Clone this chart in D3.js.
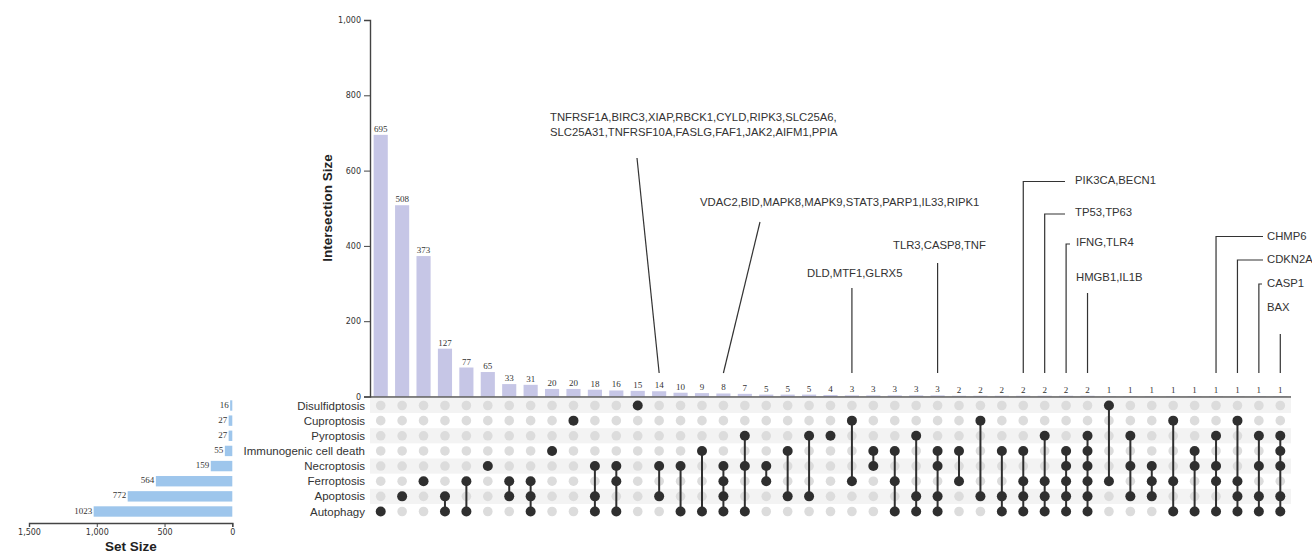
<!DOCTYPE html>
<html>
<head>
<meta charset="utf-8">
<script src="https://cdn.jsdelivr.net/npm/d3@7"></script>
<style>
  body { margin: 0; background: #fff; }
  svg { display: block; }
</style>
</head>
<body>
<svg id="chart" width="1312" height="553"></svg>
<script>
// ---- data -------------------------------------------------------------
const setNames = [
  "Disulfidptosis", "Cuproptosis", "Pyroptosis", "Immunogenic cell death",
  "Necroptosis", "Ferroptosis", "Apoptosis", "Autophagy"
];
const setSizes = [16, 27, 27, 55, 159, 564, 772, 1023];

const intersectionSizes = [
  695, 508, 373, 127, 77, 65, 33, 31, 20, 20, 18, 16, 15, 14, 10, 9, 8, 7,
  5, 5, 5, 4, 3, 3, 3, 3, 3, 2, 2, 2, 2, 2, 2, 2, 1, 1, 1, 1, 1, 1, 1, 1, 1
];

const intersectionSets = [
  ["Autophagy"],
  ["Apoptosis"],
  ["Ferroptosis"],
  ["Apoptosis", "Autophagy"],
  ["Ferroptosis", "Autophagy"],
  ["Necroptosis"],
  ["Ferroptosis", "Apoptosis"],
  ["Ferroptosis", "Apoptosis", "Autophagy"],
  ["Immunogenic cell death"],
  ["Cuproptosis"],
  ["Necroptosis", "Apoptosis", "Autophagy"],
  ["Necroptosis", "Ferroptosis", "Autophagy"],
  ["Disulfidptosis"],
  ["Necroptosis", "Apoptosis"],
  ["Necroptosis", "Autophagy"],
  ["Immunogenic cell death", "Autophagy"],
  ["Necroptosis", "Ferroptosis", "Apoptosis", "Autophagy"],
  ["Pyroptosis", "Necroptosis", "Autophagy"],
  ["Necroptosis", "Ferroptosis"],
  ["Immunogenic cell death", "Apoptosis"],
  ["Pyroptosis", "Apoptosis"],
  ["Pyroptosis"],
  ["Cuproptosis", "Ferroptosis"],
  ["Immunogenic cell death", "Necroptosis"],
  ["Immunogenic cell death", "Ferroptosis", "Autophagy"],
  ["Pyroptosis", "Apoptosis", "Autophagy"],
  ["Immunogenic cell death", "Necroptosis", "Apoptosis", "Autophagy"],
  ["Immunogenic cell death", "Ferroptosis"],
  ["Cuproptosis", "Apoptosis"],
  ["Immunogenic cell death", "Apoptosis", "Autophagy"],
  ["Immunogenic cell death", "Ferroptosis", "Apoptosis", "Autophagy"],
  ["Pyroptosis", "Ferroptosis", "Apoptosis", "Autophagy"],
  ["Immunogenic cell death", "Necroptosis", "Ferroptosis", "Apoptosis", "Autophagy"],
  ["Pyroptosis", "Immunogenic cell death", "Necroptosis", "Ferroptosis", "Apoptosis", "Autophagy"],
  ["Disulfidptosis", "Ferroptosis"],
  ["Pyroptosis", "Necroptosis", "Apoptosis"],
  ["Necroptosis", "Ferroptosis", "Apoptosis"],
  ["Cuproptosis", "Ferroptosis", "Autophagy"],
  ["Immunogenic cell death", "Necroptosis", "Autophagy"],
  ["Pyroptosis", "Necroptosis", "Ferroptosis", "Autophagy"],
  ["Cuproptosis", "Ferroptosis", "Apoptosis", "Autophagy"],
  ["Pyroptosis", "Necroptosis", "Apoptosis", "Autophagy"],
  ["Pyroptosis", "Immunogenic cell death", "Necroptosis", "Apoptosis", "Autophagy"]
];

const intersectionTicks = [0, 200, 400, 600, 800, 1000];
const setSizeTicks = [0, 500, 1000, 1500];

// gene lists attached to selected intersections (column index)
const geneCallouts = [
  { col: 13, lines: ["TNFRSF1A,BIRC3,XIAP,RBCK1,CYLD,RIPK3,SLC25A6,", "SLC25A31,TNFRSF10A,FASLG,FAF1,JAK2,AIFM1,PPIA"] },
  { col: 16, lines: ["VDAC2,BID,MAPK8,MAPK9,STAT3,PARP1,IL33,RIPK1"] },
  { col: 22, lines: ["DLD,MTF1,GLRX5"] },
  { col: 26, lines: ["TLR3,CASP8,TNF"] },
  { col: 30, lines: ["PIK3CA,BECN1"] },
  { col: 31, lines: ["TP53,TP63"] },
  { col: 32, lines: ["IFNG,TLR4"] },
  { col: 33, lines: ["HMGB1,IL1B"] },
  { col: 39, lines: ["CHMP6"] },
  { col: 40, lines: ["CDKN2A"] },
  { col: 41, lines: ["CASP1"] },
  { col: 42, lines: ["BAX"] }
];

// ---- layout -------------------------------------------------------------
const calloutPlacement = {
  13: { kind: "slant", tx: 550, ty: 120.5, x1: 637, y1: 158 },
  16: { kind: "slant", tx: 700, ty: 205.5, x1: 760, y1: 222 },
  22: { kind: "drop", tx: 807, ty: 277, y1: 288 },
  26: { kind: "drop", tx: 893, ty: 249, y1: 263 },
  30: { kind: "elbow", tx: 1075, ty: 184, ly: 181.5, hx: 1065 },
  31: { kind: "elbow", tx: 1075, ty: 215.5, ly: 214, hx: 1065 },
  32: { kind: "elbow", tx: 1076, ty: 245.5, ly: 244, hx: 1070 },
  33: { kind: "drop", tx: 1076, ty: 280.5, y1: 293 },
  39: { kind: "elbow", tx: 1267, ty: 240, ly: 236.5, hx: 1263 },
  40: { kind: "elbow", tx: 1267, ty: 263, ly: 260, hx: 1263 },
  41: { kind: "elbow", tx: 1267, ty: 287, ly: 284, hx: 1262 },
  42: { kind: "drop", tx: 1267, ty: 310.5, y1: 334 }
};

const svg = d3.select("#chart");
const sansFont = "'Liberation Sans', Arial, sans-serif";
const tickFont = "'DejaVu Sans', Verdana, sans-serif";
const valueFont = "'Liberation Serif', 'Times New Roman', serif";
const ink = "#333";

const matrixLeft = 370, matrixRight = 1291;
const x = d3.scaleBand()
  .domain(d3.range(intersectionSizes.length))
  .range([matrixLeft, matrixRight])
  .paddingInner(0.34)
  .paddingOuter(0.17);
const cx = i => x(i) + x.bandwidth() / 2;

const y = d3.scaleLinear().domain([0, 1000]).range([396.5, 20]);
const rowY = d3.scalePoint().domain(setNames).range([405.5, 511.5]);
const rowStep = rowY.step();

// ---- intersection bars ----------------------------------------------------
const barsG = svg.append("g");
barsG.selectAll("rect")
  .data(intersectionSizes)
  .join("rect")
  .attr("x", (d, i) => x(i))
  .attr("width", x.bandwidth())
  .attr("y", d => y(d))
  .attr("height", d => y(0) - y(d))
  .attr("fill", "#c6c6e6");

barsG.selectAll("text")
  .data(intersectionSizes)
  .join("text")
  .attr("x", (d, i) => cx(i))
  .attr("y", d => y(d) - 3)
  .attr("text-anchor", "middle")
  .attr("font-family", valueFont)
  .attr("font-size", 9)
  .attr("fill", ink)
  .text(d => d);

// baseline under the bars
svg.append("line")
  .attr("x1", matrixLeft).attr("x2", matrixRight)
  .attr("y1", y(0) + 0.5).attr("y2", y(0) + 0.5)
  .attr("stroke", "#555").attr("stroke-width", 1.4);

// y axis
const yAxis = svg.append("g")
  .attr("transform", `translate(${matrixLeft},0)`)
  .call(d3.axisLeft(y).tickValues(intersectionTicks).tickFormat(d3.format(",")).tickSize(6).tickPadding(3));
yAxis.select(".domain").attr("stroke", "#444").attr("stroke-width", 1.4);
yAxis.selectAll(".tick line").attr("stroke", "#444");
yAxis.selectAll("text").attr("font-family", tickFont).attr("font-size", 8).attr("fill", ink);

svg.append("text")
  .attr("transform", `translate(332,208) rotate(-90)`)
  .attr("text-anchor", "middle")
  .attr("font-family", sansFont)
  .attr("font-weight", "bold")
  .attr("font-size", 13.5)
  .attr("fill", "#222")
  .text("Intersection Size");

// ---- matrix ---------------------------------------------------------------
const matrixG = svg.append("g");
matrixG.selectAll("rect.stripe")
  .data(setNames.filter((s, i) => i % 2 === 0))
  .join("rect")
  .attr("class", "stripe")
  .attr("x", matrixLeft)
  .attr("width", matrixRight - matrixLeft)
  .attr("y", d => rowY(d) - rowStep / 2)
  .attr("height", rowStep)
  .attr("fill", "#f3f3f3");

const cells = [];
intersectionSets.forEach((members, i) => {
  setNames.forEach(s => cells.push({ col: i, set: s, on: members.includes(s) }));
});

matrixG.selectAll("circle.bg")
  .data(cells.filter(c => !c.on))
  .join("circle")
  .attr("class", "bg")
  .attr("cx", d => cx(d.col))
  .attr("cy", d => rowY(d.set))
  .attr("r", 4.8)
  .attr("fill", "#dcdcdc");

matrixG.selectAll("line.link")
  .data(intersectionSets.map((m, i) => ({ col: i, members: m })).filter(d => d.members.length > 1))
  .join("line")
  .attr("class", "link")
  .attr("x1", d => cx(d.col)).attr("x2", d => cx(d.col))
  .attr("y1", d => d3.min(d.members, s => rowY(s)))
  .attr("y2", d => d3.max(d.members, s => rowY(s)))
  .attr("stroke", "#2f2f2f")
  .attr("stroke-width", 2);

matrixG.selectAll("circle.on")
  .data(cells.filter(c => c.on))
  .join("circle")
  .attr("class", "on")
  .attr("cx", d => cx(d.col))
  .attr("cy", d => rowY(d.set))
  .attr("r", 5)
  .attr("fill", "#2f2f2f");

// set labels
svg.append("g").selectAll("text")
  .data(setNames)
  .join("text")
  .attr("x", 365)
  .attr("y", d => rowY(d) + 4)
  .attr("text-anchor", "end")
  .attr("font-family", sansFont)
  .attr("font-size", 11.5)
  .attr("fill", ink)
  .text(d => d);

// ---- set size bars --------------------------------------------------------
const xs = d3.scaleLinear().domain([0, 1500]).range([232.3, 29]);
const setG = svg.append("g");
setG.selectAll("rect")
  .data(setNames)
  .join("rect")
  .attr("x", (d, i) => xs(setSizes[i]))
  .attr("width", (d, i) => xs(0) - xs(setSizes[i]))
  .attr("y", d => rowY(d) - 5.2)
  .attr("height", 10.4)
  .attr("fill", "#9ec6ec");

setG.selectAll("text")
  .data(setNames)
  .join("text")
  .attr("x", (d, i) => xs(setSizes[i]) - 1.5)
  .attr("y", d => rowY(d) + 2)
  .attr("text-anchor", "end")
  .attr("font-family", valueFont)
  .attr("font-size", 9)
  .attr("fill", ink)
  .text((d, i) => setSizes[i]);

const sAxis = svg.append("g")
  .attr("transform", "translate(0,523)")
  .call(d3.axisBottom(xs).tickValues(setSizeTicks).tickFormat(d3.format(",")).tickSize(4).tickPadding(2));
sAxis.select(".domain").attr("stroke", "#444").attr("stroke-width", 1.4);
sAxis.selectAll(".tick line").attr("stroke", "#444");
sAxis.selectAll("text").attr("font-family", tickFont).attr("font-size", 8).attr("fill", ink);

svg.append("text")
  .attr("x", 131).attr("y", 551)
  .attr("text-anchor", "middle")
  .attr("font-family", sansFont)
  .attr("font-weight", "bold")
  .attr("font-size", 13.5)
  .attr("fill", "#222")
  .text("Set Size");

// ---- gene callouts ----------------------------------------------------------
const lineBottom = 373;
const calloutG = svg.append("g")
  .attr("stroke", "#333").attr("stroke-width", 1.2).attr("fill", "none");
const calloutText = svg.append("g")
  .attr("font-family", sansFont).attr("font-size", 11.3).attr("fill", ink);

geneCallouts.forEach(c => {
  const p = calloutPlacement[c.col];
  const colX = cx(c.col);
  if (p.kind === "slant") {
    calloutG.append("line").attr("x1", p.x1).attr("y1", p.y1).attr("x2", colX).attr("y2", lineBottom);
  } else if (p.kind === "drop") {
    calloutG.append("line").attr("x1", colX).attr("y1", p.y1).attr("x2", colX).attr("y2", lineBottom);
  } else {
    calloutG.append("path").attr("d", `M${p.hx},${p.ly}H${colX}V${lineBottom}`);
  }
  c.lines.forEach((t, k) => {
    calloutText.append("text").attr("x", p.tx).attr("y", p.ty + k * 15).text(t);
  });
});
</script>
</body>
</html>
